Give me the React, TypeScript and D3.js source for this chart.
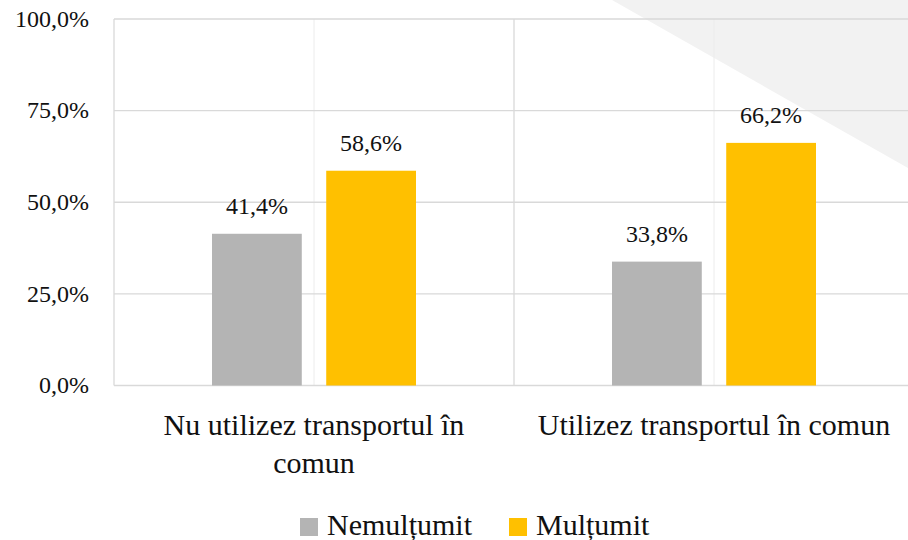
import * as d3 from "d3";
import React from "react";

// data
const categories = ["Nu utilizez transportul în comun", "Utilizez transportul în comun"];
const series = ["Nemulțumit", "Mulțumit"];
const nemultumit = [41.4, 33.8];
const multumit = [58.6, 66.2];
const yTicks = [0, 25, 50, 75, 100];

const WIDTH = 908;
const HEIGHT = 540;
const FONT = "Liberation Serif";
const COLORS = ["#b4b4b4", "#ffc000"];
const txt = { fontFamily: "'Liberation Serif', serif" };

// split a category label into lines that fit maxW
function wrap(text: string, maxW: number, size: number): string[] {
  const ctx = document.createElement("canvas").getContext("2d");
  if (!ctx) return [text];
  ctx.font = `${size}px "${FONT}"`;
  const words = text.split(" ");
  const lines: string[] = [];
  let cur = "";
  words.forEach(w => {
    const test = cur ? cur + " " + w : w;
    if (ctx.measureText(test).width > maxW && cur) {
      lines.push(cur);
      cur = w;
    } else {
      cur = test;
    }
  });
  if (cur) lines.push(cur);
  return lines;
}

export default function App() {
  const margin = { top: 19, left: 114, bottom: 385.5, right: 914 };

  const x0 = d3.scaleBand<string>()
    .domain(categories)
    .range([margin.left, margin.right])
    .padding(0);

  const groupW = 204;
  const x1 = d3.scaleBand<string>()
    .domain(series)
    .range([0, groupW])
    .paddingInner(0.214)
    .paddingOuter(0);

  const y = d3.scaleLinear().domain([0, 100]).range([margin.bottom, margin.top]);

  const values = [nemultumit, multumit];
  const fmt = (v: number) => v.toFixed(1).replace(".", ",") + "%";

  return (
    <svg
      width={WIDTH}
      height={HEIGHT}
      style={{ position: "absolute", left: 0, top: 0, background: "#fff" }}
    >
      {/* decorative corner */}
      <polygon points={`612,0 ${WIDTH},0 ${WIDTH},168`} fill="#f2f2f2" />

      {/* light mid-category lines */}
      {categories.map((c, i) => {
        const cx = (x0(c) || 0) + x0.bandwidth() / 2;
        return (
          <line key={"m" + i} x1={cx} x2={cx} y1={margin.top} y2={margin.bottom}
            stroke="#ececec" strokeWidth={1} />
        );
      })}

      {/* horizontal grid */}
      {yTicks.map((t, i) => (
        <line key={"h" + i} x1={margin.left} x2={margin.right} y1={y(t)} y2={y(t)}
          stroke="#d9d9d9" strokeWidth={1.3} />
      ))}

      {/* category boundaries */}
      {[...categories.map(c => x0(c) || 0), margin.right].map((bx, i) => (
        <line key={"v" + i} x1={bx} x2={bx} y1={margin.top} y2={margin.bottom}
          stroke="#d9d9d9" strokeWidth={1.3} />
      ))}

      {/* y labels */}
      {yTicks.map((t, i) => (
        <text key={"yl" + i} x={89} y={y(t)} dy="0.32em" fontSize={24}
          textAnchor="end" fill="#111" style={txt}>
          {fmt(t)}
        </text>
      ))}

      {/* bars */}
      {categories.map((c, ci) => {
        const gx = (x0(c) || 0) + (x0.bandwidth() - groupW) / 2;
        return (
          <g key={"g" + ci} transform={`translate(${gx},0)`}>
            {series.map((s, si) => {
              const v = values[si][ci];
              const bx = x1(s) || 0;
              return (
                <g key={s}>
                  <rect x={bx} y={y(v)} width={x1.bandwidth()} height={y(0) - y(v)}
                    fill={COLORS[si]} />
                  <text x={bx + x1.bandwidth() / 2} y={y(v) - 20} fontSize={24}
                    textAnchor="middle" fill="#111" style={txt}>
                    {fmt(v)}
                  </text>
                </g>
              );
            })}
          </g>
        );
      })}

      {/* category labels */}
      {categories.map((c, i) => {
        const cx = (x0(c) || 0) + x0.bandwidth() / 2;
        const lines = wrap(c, 380, 30);
        return (
          <text key={"c" + i} x={cx} y={435} fontSize={30} textAnchor="middle"
            fill="#111" style={txt}>
            {lines.map((l, li) => (
              <tspan key={li} x={cx} dy={li === 0 ? 0 : 38}>{l}</tspan>
            ))}
          </text>
        );
      })}

      {/* legend */}
      {series.map((s, i) => {
        const lx = i === 0 ? 300 : 509;
        return (
          <g key={"l" + i}>
            <rect x={lx} y={518} width={18} height={18} fill={COLORS[i]} />
            <text x={lx + 27} y={535} fontSize={30} fill="#111" style={txt}>{s}</text>
          </g>
        );
      })}
    </svg>
  );
}
